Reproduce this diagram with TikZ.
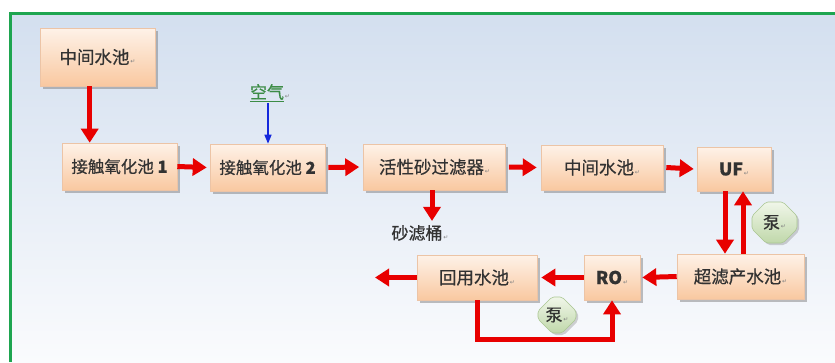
\documentclass[tikz,border=0pt]{standalone}
\usepackage{fontspec}
\setmainfont{Noto Sans CJK SC}[FakeBold=0.6]
\newfontfamily\symfont{DejaVu Sans}
\usetikzlibrary{shapes.misc,arrows.meta,shadows}
\definecolor{bgtop}{RGB}{211,223,239}
\definecolor{bgbot}{RGB}{250,251,253}
\definecolor{frame}{RGB}{30,165,80}
\definecolor{boxtop}{RGB}{254,242,232}
\definecolor{boxbot}{RGB}{249,200,160}
\definecolor{boxline}{RGB}{236,196,166}
\definecolor{pumptop}{RGB}{240,246,233}
\definecolor{pumpbot}{RGB}{192,216,170}
\definecolor{pumpline}{RGB}{170,198,146}
\definecolor{txt}{RGB}{50,50,50}
\definecolor{flow}{RGB}{232,0,0}
\definecolor{air}{RGB}{20,40,220}
\definecolor{airtxt}{RGB}{60,140,70}
\newcommand{\pmark}{{\symfont\fontsize{6}{6}\selectfont\color{gray}\,↵}}
\tikzset{
  x=1pt, y=-1pt,
  procbox/.style={draw=boxline, line width=0.6pt, top color=boxtop, bottom color=boxbot,
    minimum width=#1, inner sep=0pt, text=txt, font=\fontsize{17.5}{19}\selectfont,
    drop shadow={shadow xshift=2.5pt, shadow yshift=-2.5pt, opacity=0.45, fill=black!55}},
  pumpbox/.style={chamfered rectangle, chamfered rectangle xsep=7pt, chamfered rectangle ysep=7pt,
    draw=pumpline, line width=0.6pt, top color=pumptop, bottom color=pumpbot, rounded corners=2pt,
    inner sep=0pt, text=txt, font=\fontsize{17}{19}\selectfont,
    drop shadow={shadow xshift=2pt, shadow yshift=-2pt, opacity=0.35, fill=black!50}},
  flowarrow/.style={draw=flow, line width=5pt, -{Triangle[width=17pt,length=14pt]}},
  airarrow/.style={draw=air, line width=1.5pt, -{Triangle[width=7pt,length=9pt]}},
  label/.style={text=txt, font=\fontsize{17}{19}\selectfont, inner sep=1pt}
}
\begin{document}
\begin{tikzpicture}
\useasboundingbox (0,0) rectangle (835,362);
\fill[white] (0,0) rectangle (835,362);
\fill[top color=bgtop, bottom color=bgbot] (10,13) rectangle (835,362);
\draw[frame, line width=3pt] (10,362) -- (10,13) -- (835,13);

% boxes
\node[procbox=115pt, minimum height=58pt] (m1) at (97.5,57) {中间水池\pmark};
\node[procbox=115pt, minimum height=47pt, font=\fontsize{16.5}{18}\selectfont] (c1) at (119.5,166.5) {接触氧化池 \textbf{1}};
\node[procbox=115pt, minimum height=47pt, font=\fontsize{16.5}{18}\selectfont] (c2) at (267.5,167.5) {接触氧化池 \textbf{2}};
\node[procbox=142pt, minimum height=46pt] (sand) at (434.5,167) {活性砂过滤器\pmark};
\node[procbox=122pt, minimum height=45pt] (m2) at (602,167.5) {中间水池\pmark};
\node[procbox=74pt, minimum height=44pt] (uf) at (734,169) {\textbf{UF}\pmark};
\node[procbox=127pt, minimum height=45pt] (cl) at (740.5,276.5) {超滤产水池\pmark};
\node[procbox=56pt, minimum height=45pt] (ro) at (612,277.5) {\textbf{RO}\pmark};
\node[procbox=120pt, minimum height=45pt] (reuse) at (477,277.5) {回用水池\pmark};
\node[pumpbox, minimum width=45pt, minimum height=41pt] (p1) at (774.5,222.5) {泵\pmark};
\node[pumpbox, minimum width=38pt, minimum height=36pt] (p2) at (557,315) {泵\pmark};

% labels
\node[label] (sl) at (420,233) {砂滤桶\pmark};
\node[label, text=airtxt] (air) at (270,93) {\underline{空气}\pmark};
\coordinate (out) at (375,277.5);

% connectors
\draw[flowarrow] ([xshift=50pt]m1.south west) -- ([xshift=50pt]m1.south west |- c1.north);
\draw[flowarrow] (c1.east) -- ([xshift=-3pt]c2.west);
\draw[flowarrow] ([xshift=3pt]c2.east) -- ([xshift=-4pt]sand.west);
\draw[flowarrow] ([xshift=3pt]sand.east) -- ([xshift=-4pt]m2.west);
\draw[flowarrow] ([xshift=3pt]m2.east) -- ([xshift=-3pt]uf.west);
\draw[flowarrow] ([xshift=-2.5pt]sand.south) -- ([xshift=-2.5pt,yshift=3pt]sand.south |- sl.north);
\draw[airarrow] ([xshift=-2pt]air.south) -- ([xshift=-2pt]air.south |- c2.north);
\draw[flowarrow] ([xshift=-9pt]uf.south) -- ([xshift=-9pt]uf.south |- cl.north);
\draw[flowarrow] ([xshift=9pt]uf.south |- cl.north) -- ([xshift=9pt]uf.south);
\draw[flowarrow] (cl.west) -- ([xshift=2pt]ro.east);
\draw[flowarrow] (ro.west) -- ([xshift=4pt]reuse.east);
\draw[flowarrow] (reuse.west) -- (out);
\draw[flowarrow, line join=miter] (reuse.south) -- ++(0,39) -| (ro.south);
\end{tikzpicture}
\end{document}
